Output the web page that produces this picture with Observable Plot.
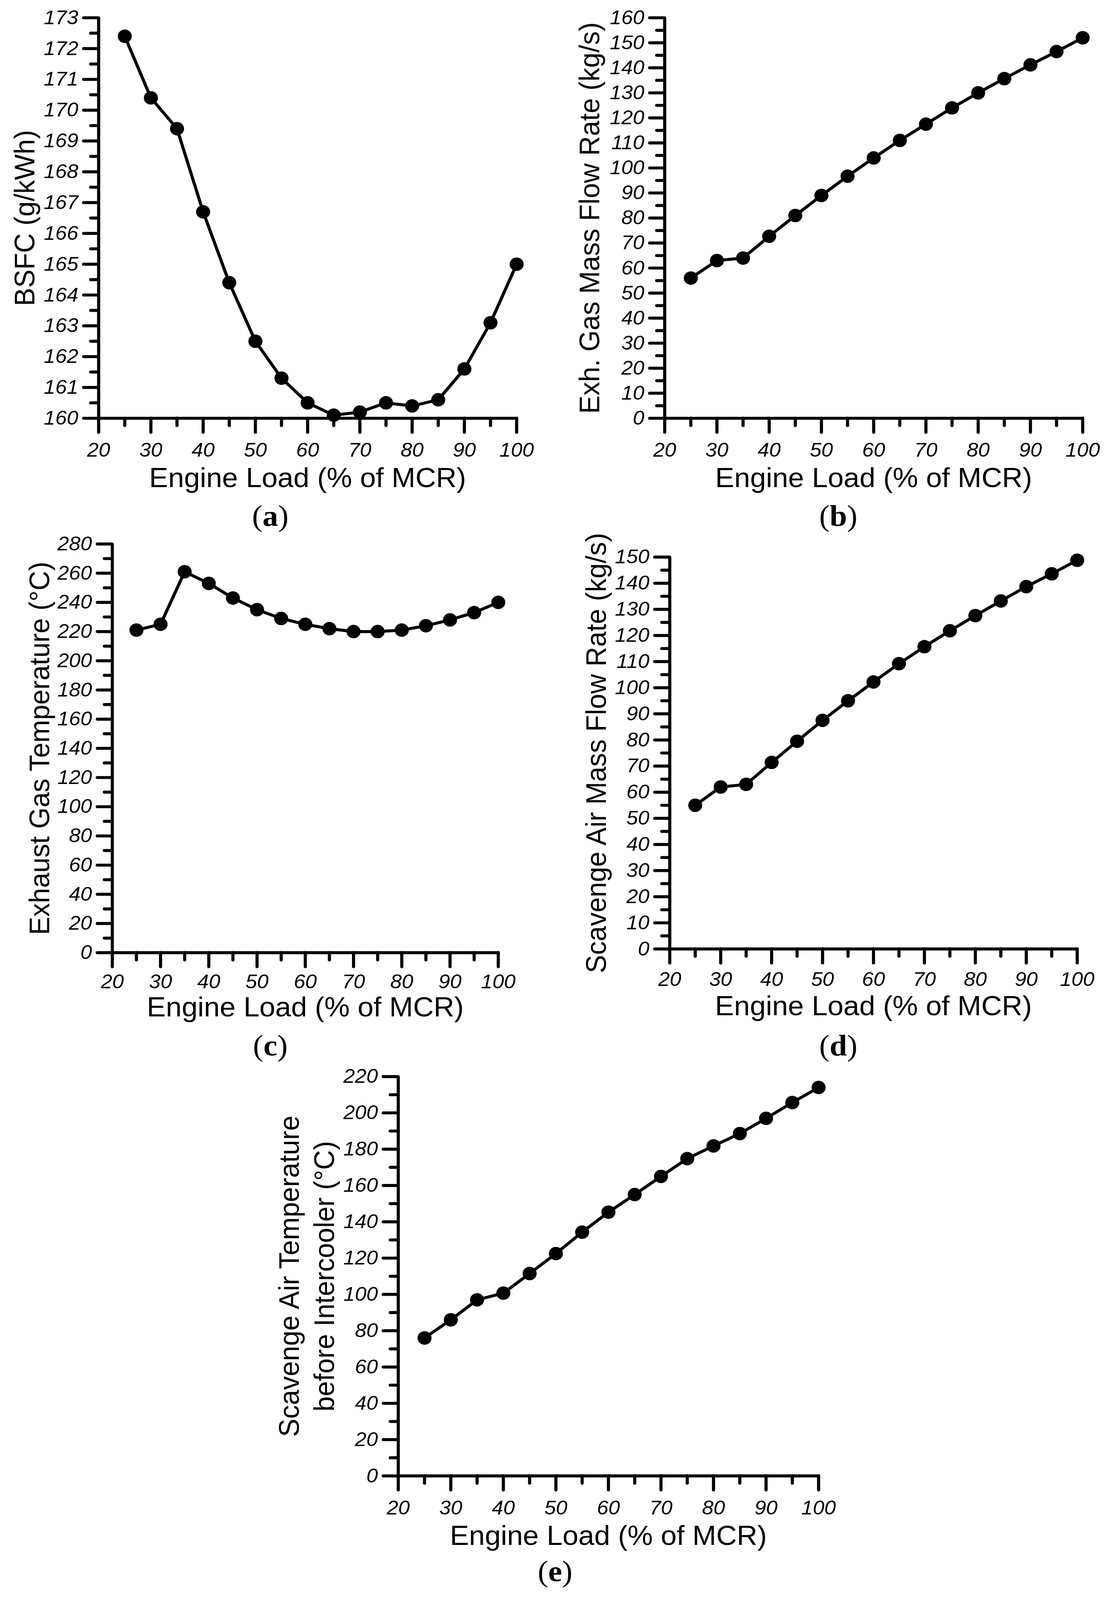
<!DOCTYPE html>
<html>
<head>
<meta charset="utf-8">
<script src="https://cdn.jsdelivr.net/npm/d3@7"></script>
<script src="https://cdn.jsdelivr.net/npm/@observablehq/plot@0.6"></script>
<style>
  html, body { margin: 0; padding: 0; background: #fff; overflow: hidden; }
  #fig { position: relative; width: 2844px; height: 4275px; background: #fff; overflow: hidden; transform-origin: 0 0; }
  #fig svg { position: absolute; overflow: visible; }
  .cap { position: absolute; font-family: "Liberation Serif", "DejaVu Serif", serif; font-size: 80px; line-height: 1; transform: translateX(-50%); white-space: nowrap; color: #000; }
</style>
</head>
<body>
<div id="fig"></div>
<script>
// engine load (% of MCR), shared by all five panels
const load = [25, 30, 35, 40, 45, 50, 55, 60, 65, 70, 75, 80, 85, 90, 95, 100];

// values
const bsfc = [172.4, 170.4, 169.4, 166.7, 164.4, 162.5, 161.3, 160.5, 160.1, 160.2, 160.5, 160.4, 160.6, 161.6, 163.1, 165.0];
const exhFlow = [56, 63, 64, 72.7, 81, 89, 96.7, 104, 111, 117.5, 124, 130, 135.7, 141.2, 146.5, 152];
const exhTemp = [221, 225, 261, 253, 243, 235, 229, 225, 222, 220, 220, 221, 224, 228, 233, 240];
const scavFlow = [55, 62, 63, 71.4, 79.5, 87.5, 95, 102.2, 109.2, 115.7, 121.8, 127.6, 133.2, 138.7, 143.6, 148.8];
const scavTemp = [76, 86, 97, 100.7, 111.5, 122.5, 134.3, 145.3, 155, 165, 174.8, 181.8, 188.6, 197, 205.7, 214];

// tick values
const loadTicks = [20, 30, 40, 50, 60, 70, 80, 90, 100];
const loadMinor = [25, 35, 45, 55, 65, 75, 85, 95];
const bsfcTicks = [160, 161, 162, 163, 164, 165, 166, 167, 168, 169, 170, 171, 172, 173];
const bsfcMinor = [160.5, 161.5, 162.5, 163.5, 164.5, 165.5, 166.5, 167.5, 168.5, 169.5, 170.5, 171.5, 172.5];
const flow160Ticks = [0, 10, 20, 30, 40, 50, 60, 70, 80, 90, 100, 110, 120, 130, 140, 150, 160];
const flow160Minor = [5, 15, 25, 35, 45, 55, 65, 75, 85, 95, 105, 115, 125, 135, 145, 155];
const temp280Ticks = [0, 20, 40, 60, 80, 100, 120, 140, 160, 180, 200, 220, 240, 260, 280];
const temp280Minor = [10, 30, 50, 70, 90, 110, 130, 150, 170, 190, 210, 230, 250, 270];
const flow150Ticks = [0, 10, 20, 30, 40, 50, 60, 70, 80, 90, 100, 110, 120, 130, 140, 150];
const flow150Minor = [5, 15, 25, 35, 45, 55, 65, 75, 85, 95, 105, 115, 125, 135, 145];
const temp220Ticks = [0, 20, 40, 60, 80, 100, 120, 140, 160, 180, 200, 220];
const temp220Minor = [10, 30, 50, 70, 90, 110, 130, 150, 170, 190, 210];

const xTitle = "Engine Load (% of MCR)";
const sans = "'Liberation Sans', Arial, Helvetica, sans-serif";
const fig = document.getElementById("fig");

// the window can be shorter than the figure: squeeze it vertically so nothing is lost
const fit = Math.min(1, window.innerHeight / 4275);
if (fit < 1) fig.style.transform = "scale(1," + fit + ")";

function panel(p) {
  const rows = load.map((x, i) => ({load: x, value: p.values[i]}));
  const chart = Plot.plot({
    width: p.width,
    height: p.height,
    marginLeft: p.ml,
    marginRight: p.width - p.ml - p.fw,
    marginTop: p.mt,
    marginBottom: p.height - p.mt - p.fh,
    x: {domain: [20, 100], label: null},
    y: {domain: p.domain, label: null},
    style: {fontFamily: sans, color: "black", background: "transparent", overflow: "visible"},
    marks: [
      Plot.axisX({ticks: loadMinor, tickSize: 20, tickFormat: () => "", strokeWidth: 8, strokeLinecap: "round", label: null}),
      Plot.axisX({ticks: loadTicks, tickSize: 38, tickPadding: p.xpad, tickFormat: d => String(d),
        fontSize: 53, fontStyle: "italic", strokeWidth: 8, strokeLinecap: "round", label: null}),
      Plot.axisY({ticks: p.minor, tickSize: 20, tickFormat: () => "", strokeWidth: 8, strokeLinecap: "round", label: null}),
      Plot.axisY({ticks: p.ticks, tickSize: 38, tickPadding: 14, tickFormat: d => String(d),
        fontSize: 53, fontStyle: "italic", strokeWidth: 8, strokeLinecap: "round", label: null}),
      Plot.ruleY([p.domain[0]], {strokeWidth: 8}),
      Plot.ruleX([20], {strokeWidth: 8}),
      Plot.line(rows, {x: "load", y: "value", stroke: "black", strokeWidth: 8}),
      Plot.dot(rows, {x: "load", y: "value", r: 18, fill: "black", stroke: "none"}),
      Plot.text([xTitle], {frameAnchor: "bottom", dy: p.xTitleDy, lineAnchor: "bottom", textAnchor: "middle", fontSize: 73}),
      Plot.text([p.yTitle], {frameAnchor: "left", dx: p.yTitleDx, rotate: -90, textAnchor: "middle",
        lineAnchor: "middle", lineHeight: 1.22, fontSize: 73})
    ]
  });
  chart.style.left = p.left + "px";
  chart.style.top = p.top + "px";
  fig.appendChild(chart);

  const cap = document.createElement("div");
  cap.className = "cap";
  cap.innerHTML = "(<b>" + p.tag + "</b>)";
  cap.style.left = p.capX + "px";
  cap.style.top = (p.capY - 67) + "px";
  fig.appendChild(cap);
}

panel({tag: "a", values: bsfc, domain: [160, 173], ticks: bsfcTicks, minor: bsfcMinor,
  yTitle: "BSFC (g/kWh)", left: 0, top: 0, width: 1422, height: 1360,
  ml: 252, mt: 47, fw: 1070, fh: 1070, xpad: 27, xTitleDy: 184, yTitleDx: -193, capX: 692, capY: 1405});

panel({tag: "b", values: exhFlow, domain: [0, 160], ticks: flow160Ticks, minor: flow160Minor,
  yTitle: "Exh. Gas Mass Flow Rate (kg/s)", left: 1422, top: 0, width: 1422, height: 1360,
  ml: 279, mt: 47, fw: 1070, fh: 1070, xpad: 27, xTitleDy: 184, yTitleDx: -196, capX: 2146, capY: 1405});

panel({tag: "c", values: exhTemp, domain: [0, 280], ticks: temp280Ticks, minor: temp280Minor,
  yTitle: "Exhaust Gas Temperature (°C)", left: 0, top: 1400, width: 1422, height: 1360,
  ml: 287, mt: 53, fw: 988, fh: 1092, xpad: 19, xTitleDy: 170, yTitleDx: -190, capX: 692, capY: 2820});

panel({tag: "d", values: scavFlow, domain: [0, 150], ticks: flow150Ticks, minor: flow150Minor,
  yTitle: "Scavenge Air Mass Flow Rate (kg/s)", left: 1422, top: 1400, width: 1422, height: 1360,
  ml: 292, mt: 88, fw: 1043, fh: 1047, xpad: 23, xTitleDy: 177, yTitleDx: -192, capX: 2146, capY: 2820});

panel({tag: "e", values: scavTemp, domain: [0, 220], ticks: temp220Ticks, minor: temp220Minor,
  yTitle: "Scavenge Air Temperature\nbefore Intercooler (°C)", left: 650, top: 2800, width: 1550, height: 1400,
  ml: 369, mt: 76, fw: 1076, fh: 1067, xpad: 27, xTitleDy: 184, yTitleDx: -238, capX: 1421, capY: 4225});
</script>
</body>
</html>
